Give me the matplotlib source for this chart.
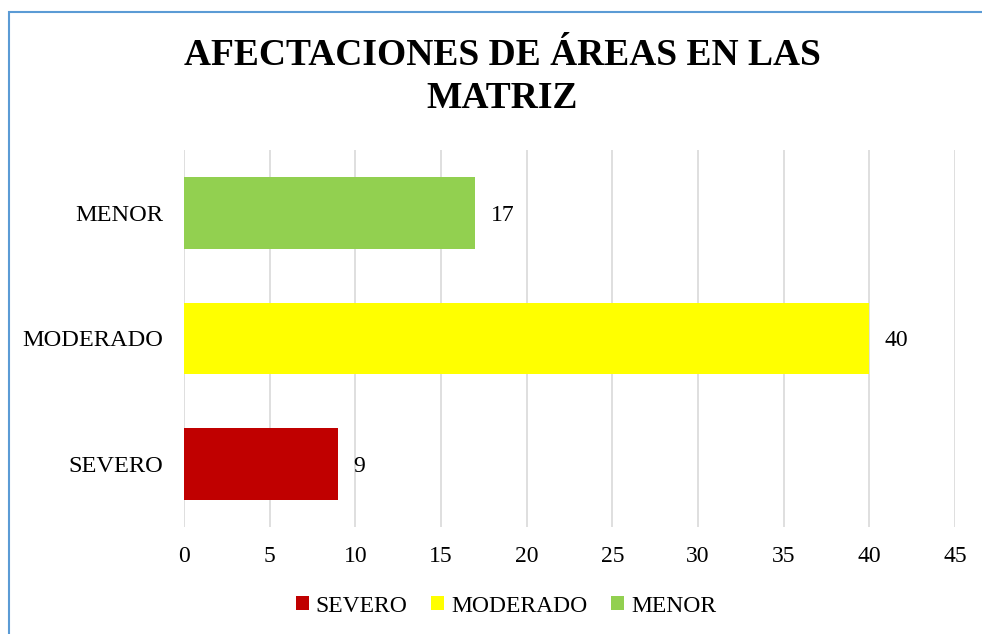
import matplotlib.pyplot as plt
from matplotlib.patches import Rectangle, Patch

categories = ["SEVERO", "MODERADO", "MENOR"]
values = [9, 40, 17]
colors = ["#C00000", "#FFFF00", "#92D050"]
xticks = [0, 5, 10, 15, 20, 25, 30, 35, 40, 45]

plt.rcParams['font.family'] = ['Liberation Serif', 'DejaVu Serif']

W, H = 982, 634
fig = plt.figure(figsize=(W / 100, H / 100), dpi=100)

# light blue frame around the chart (runs off the right and bottom edges)
fig.patches.append(Rectangle((8.5 / W, -0.05), 1.1, 1 - 11.5 / H + 0.05,
                             transform=fig.transFigure, fill=False,
                             edgecolor="#5B9BD5", linewidth=1.5))

ax = fig.add_axes([184 / W, 1 - 527 / H, 771 / W, 377 / H])
ypos = list(range(len(categories)))
ax.barh(ypos, values, height=0.57, color=colors, zorder=3)
for y, v in zip(ypos, values):
    ax.text(v + 0.9, y, str(v), va="center_baseline", ha="left", fontsize=17)

ax.set_xlim(0, 45)
ax.set_ylim(-0.5, 2.5)
ax.set_xticks(xticks)
ax.set_yticks(ypos)
ax.set_yticklabels(categories, fontsize=17.6)
ax.tick_params(axis="both", length=0)
ax.tick_params(axis="x", labelsize=17, pad=14)
ax.tick_params(axis="y", pad=15)
ax.grid(axis="x", color="#D9D9D9", linewidth=1.2, zorder=0)
for s in ax.spines.values():
    s.set_visible(False)

fig.text(502 / W, 1 - 77 / H, "AFECTACIONES DE ÁREAS EN LAS\nMATRIZ",
         ha="center", va="center", fontsize=27, fontweight="bold",
         linespacing=1.28)

handles = [Patch(facecolor=c, label=l) for c, l in zip(colors, categories)]
fig.legend(handles=handles, loc="center", bbox_to_anchor=(506 / W, 1 - 606 / H),
           ncol=3, frameon=False, fontsize=17, handlelength=0.55,
           handleheight=0.55, handletextpad=0.3, columnspacing=1.0)

fig.savefig("out.png", dpi=100)
